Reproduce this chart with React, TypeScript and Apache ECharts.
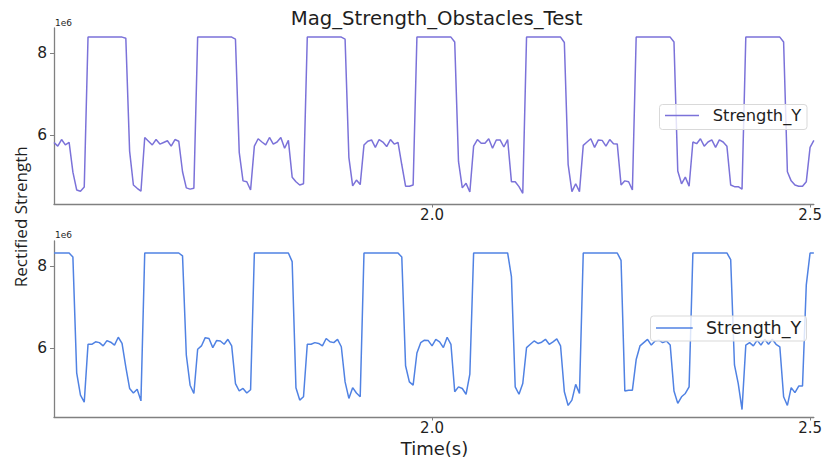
import React, { useEffect, useRef } from "react";
import * as echarts from "echarts";

// Sampling of the recorded signal (seconds)
const T_START = 1.5;
const T_STEP = 0.005;
const X_MIN = 1.5;
const X_MAX = 2.505;

// Tick labels
const xTicks = [2.0, 2.5];
const yTicks = [6, 8];
const Y_MIN = 4.34;
const Y_MAX = 8.6;

const seriesName = "Strength_Y";
const titleText = "Mag_Strength_Obstacles_Test";
const yLabel = "Rectified Strength";
const xLabel = "Time(s)";
const offsetText = "1e6";

// Values in units of 1e6
const topValues = [
  5.83, 5.74, 5.90, 5.77, 5.83, 5.11, 4.68, 4.65, 4.75, 8.38,
  8.38, 8.38, 8.38, 8.38, 8.38, 8.38, 8.38, 8.38, 8.38, 8.35,
  5.62, 4.80, 4.72, 4.65, 5.95, 5.86, 5.77, 5.90, 5.79, 5.83,
  5.87, 5.74, 5.90, 5.86, 5.12, 4.73, 4.70, 4.72, 8.38, 8.38,
  8.38, 8.38, 8.38, 8.38, 8.38, 8.38, 8.38, 8.38, 8.33, 5.59,
  4.90, 4.88, 4.68, 5.74, 5.92, 5.84, 5.77, 5.95, 5.79, 5.84,
  5.95, 5.69, 5.88, 4.99, 4.88, 4.80, 4.83, 8.38, 8.38, 8.38,
  8.38, 8.38, 8.38, 8.38, 8.38, 8.38, 8.38, 8.33, 5.47, 4.78,
  4.92, 4.81, 5.77, 5.86, 5.89, 5.71, 5.90, 5.84, 5.73, 5.90,
  5.79, 5.83, 5.29, 4.77, 4.77, 4.80, 8.38, 8.38, 8.38, 8.38,
  8.38, 8.38, 8.38, 8.38, 8.38, 8.38, 8.26, 5.37, 4.73, 4.84,
  4.63, 5.74, 5.90, 5.81, 5.81, 5.92, 5.69, 5.89, 5.89, 5.72,
  5.90, 4.88, 4.88, 4.76, 4.60, 8.38, 8.38, 8.38, 8.38, 8.38,
  8.38, 8.38, 8.38, 8.38, 8.38, 8.25, 5.30, 4.64, 4.83, 4.64,
  5.76, 5.84, 5.92, 5.71, 5.89, 5.88, 5.74, 5.90, 5.80, 5.79,
  4.80, 4.90, 4.88, 4.68, 8.38, 8.38, 8.38, 8.38, 8.38, 8.38,
  8.38, 8.38, 8.38, 8.38, 8.26, 5.14, 4.83, 4.99, 4.77, 5.84,
  5.80, 5.92, 5.74, 5.84, 5.89, 5.71, 5.89, 5.84, 5.74, 4.80,
  4.76, 4.76, 4.70, 8.38, 8.38, 8.38, 8.38, 8.38, 8.38, 8.38,
  8.38, 8.38, 8.38, 8.26, 5.12, 4.90, 4.80, 4.77, 4.77, 4.88,
  5.71, 5.88,
];

const bottomValues = [
  8.31, 8.31, 8.31, 8.31, 8.31, 8.21, 5.41, 4.87, 4.70, 6.10,
  6.10, 6.16, 6.14, 6.06, 6.19, 6.15, 6.08, 6.27, 6.12, 5.55,
  5.03, 4.92, 5.01, 4.73, 8.31, 8.31, 8.31, 8.31, 8.31, 8.31,
  8.31, 8.31, 8.31, 8.31, 8.24, 5.84, 5.11, 4.91, 5.98, 6.06,
  6.26, 6.24, 6.02, 6.19, 6.18, 6.10, 6.22, 6.06, 5.15, 4.97,
  5.03, 4.92, 5.00, 8.31, 8.31, 8.31, 8.31, 8.31, 8.31, 8.31,
  8.31, 8.31, 8.31, 8.10, 5.05, 4.75, 4.83, 6.10, 6.10, 6.14,
  6.12, 6.06, 6.24, 6.16, 6.14, 6.22, 6.04, 5.19, 4.79, 5.05,
  4.92, 4.83, 8.31, 8.31, 8.31, 8.31, 8.31, 8.31, 8.31, 8.31,
  8.31, 8.31, 8.21, 5.58, 5.19, 5.11, 5.89, 6.14, 6.20, 6.19,
  6.06, 6.22, 6.16, 6.02, 6.27, 6.10, 4.95, 5.07, 5.03, 4.89,
  5.38, 8.31, 8.31, 8.31, 8.31, 8.31, 8.31, 8.31, 8.31, 8.31,
  8.31, 7.74, 5.07, 4.89, 5.15, 6.02, 6.10, 6.18, 6.12, 6.15,
  6.22, 6.10, 6.16, 6.23, 6.06, 4.95, 4.62, 4.75, 5.13, 4.91,
  8.31, 8.31, 8.31, 8.31, 8.31, 8.31, 8.31, 8.31, 8.31, 8.31,
  8.13, 4.97, 4.99, 4.99, 5.73, 6.06, 6.14, 6.22, 6.08, 6.18,
  6.20, 6.14, 6.18, 6.08, 4.97, 4.67, 4.83, 4.91, 5.07, 8.31,
  8.31, 8.31, 8.31, 8.31, 8.31, 8.31, 8.31, 8.31, 8.31, 8.15,
  5.60, 5.15, 4.52, 6.08, 6.14, 6.06, 6.20, 6.08, 6.22, 6.10,
  6.22, 6.10, 6.04, 4.83, 4.62, 5.05, 4.93, 5.09, 5.09, 7.54,
  8.31, 8.31,
];

const TOP_COLOR = "#7b72d9";
const BOTTOM_COLOR = "#5082e3";
const SPINE = "#808080";
const TEXT = "#1f1f1f";
const FONT = "DejaVu Sans";

const toPairs = (vals: number[]) =>
  vals.map((v, i) => [+(T_START + i * T_STEP).toFixed(3), v]);

export default function App() {
  const ref = useRef<HTMLDivElement>(null);

  useEffect(() => {
    document.body.style.margin = "0";
    if (!ref.current) return;
    const chart = echarts.init(ref.current, undefined, { renderer: "svg" });

    const grids = [
      { left: 54, top: 28, width: 763, height: 176 },
      { left: 54, top: 241, width: 763, height: 176 },
    ];

    const xAxis = [0, 1].map((gi) => ({
      type: "value",
      gridIndex: gi,
      min: X_MIN,
      max: X_MAX,
      axisLine: { show: true, onZero: false, lineStyle: { color: SPINE, width: 1.3 } },
      axisTick: { show: true, customValues: xTicks, length: 3.5, lineStyle: { color: SPINE, width: 1 } },
      axisLabel: {
        show: true,
        customValues: xTicks,
        formatter: (v: number) => v.toFixed(1),
        fontSize: 15,
        lineHeight: 13,
        fontFamily: FONT,
        color: TEXT,
        margin: 4.5,
      },
      splitLine: { show: false },
    }));

    const yAxis = [0, 1].map((gi) => ({
      type: "value",
      gridIndex: gi,
      min: Y_MIN,
      max: Y_MAX,
      axisLine: { show: true, onZero: false, lineStyle: { color: SPINE, width: 1.3 } },
      axisTick: { show: true, customValues: yTicks, length: 4, lineStyle: { color: SPINE, width: 1 } },
      axisLabel: {
        show: true,
        customValues: yTicks,
        formatter: (v: number) => String(v),
        fontSize: 15.5,
        fontFamily: FONT,
        color: TEXT,
        margin: 7,
      },
      splitLine: { show: false },
    }));

    const txt = (text: string, x: number, y: number, size: number, align: string, extra: any = {}) => ({
      type: "text",
      x,
      y,
      z: 100,
      ...extra,
      style: {
        text,
        fontSize: size,
        lineHeight: extra.lineHeight || undefined,
        fontFamily: extra.fontFamily || FONT,
        fill: TEXT,
        align,
        textAlign: align,
        verticalAlign: "middle",
        textVerticalAlign: "middle",
      },
    });

    const legend = (
      bx: number, by: number, bw: number, bh: number,
      lx1: number, lx2: number, ly: number, tx: number, size: number, color: string
    ) => [
      {
        type: "rect",
        z: 100,
        shape: { x: bx, y: by, width: bw, height: bh, r: 3 },
        style: { fill: "rgba(255,255,255,0.8)", stroke: "#d9d9d9", lineWidth: 1 },
      },
      {
        type: "line",
        z: 101,
        shape: { x1: lx1, y1: ly, x2: lx2, y2: ly },
        style: { stroke: color, lineWidth: 1.5 },
      },
      { ...txt(seriesName, tx, ly, size, "left"), z: 101 },
    ];

    const option: any = {
      animation: false,
      backgroundColor: "#ffffff",
      grid: grids,
      xAxis,
      yAxis,
      series: [
        {
          name: seriesName,
          type: "line",
          xAxisIndex: 0,
          yAxisIndex: 0,
          data: toPairs(topValues),
          showSymbol: false,
          symbol: "none",
          lineStyle: { color: TOP_COLOR, width: 1.5 },
          itemStyle: { color: TOP_COLOR },
        },
        {
          name: seriesName,
          type: "line",
          xAxisIndex: 1,
          yAxisIndex: 1,
          data: toPairs(bottomValues),
          showSymbol: false,
          symbol: "none",
          lineStyle: { color: BOTTOM_COLOR, width: 1.5 },
          itemStyle: { color: BOTTOM_COLOR },
        },
      ],
      graphic: [
        txt(titleText, 436.5, 18, 19.7, "center"),
        txt(offsetText, 55, 22.5, 9, "left"),
        txt(offsetText, 55, 234.5, 9, "left"),
        txt(xLabel, 434.5, 448, 18, "center", { lineHeight: 16 }),
        txt(yLabel, 20, 216.7, 17, "center", { rotation: Math.PI / 2, fontFamily: "Open Sans" }),
        ...legend(659.5, 104.5, 147.5, 25, 665, 699, 115.5, 712.7, 16.3, TOP_COLOR),
        ...legend(650.5, 316, 156, 25, 656, 692.7, 328, 706, 17.5, BOTTOM_COLOR),
      ],
    };

    chart.setOption(option);
    return () => chart.dispose();
  }, []);

  return <div ref={ref} style={{ width: 825, height: 459 }} />;
}
